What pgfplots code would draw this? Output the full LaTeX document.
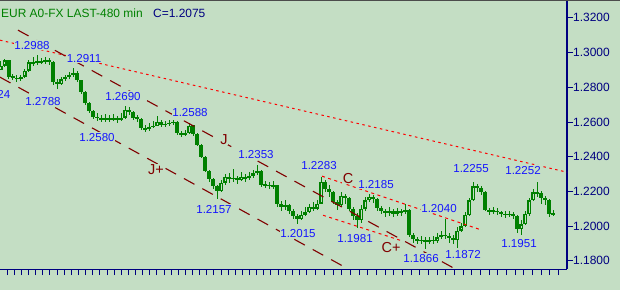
\documentclass[border=0pt]{standalone}
\usepackage{pgfplots}
\usepackage{pgfplotstable}
\pgfplotsset{compat=1.18}
\usepackage{fontspec}
\setmainfont{Liberation Sans}
\definecolor{bg}{RGB}{196,222,196}
\definecolor{barg}{RGB}{0,128,0}
\definecolor{navyc}{RGB}{0,0,128}
\definecolor{lblue}{RGB}{20,20,255}
\definecolor{dred}{RGB}{128,0,0}
\definecolor{bred}{RGB}{255,0,0}
\pgfplotstableread{
x o h l c
1 1.2900 1.2950 1.2900 1.2925
5 1.2925 1.2965 1.2915 1.2955
9 1.2955 1.2960 1.2850 1.2862
13 1.2862 1.2875 1.2840 1.2855
17 1.2855 1.2870 1.2830 1.2848
21 1.2848 1.2872 1.2835 1.2860
25 1.2860 1.2905 1.2852 1.2895
29 1.2895 1.2960 1.2890 1.2945
33 1.2945 1.2975 1.2925 1.2940
37 1.2940 1.2988 1.2930 1.2952
41 1.2952 1.2970 1.2932 1.2945
45 1.2945 1.2975 1.2935 1.2955
49 1.2955 1.2968 1.2930 1.2948
53 1.2948 1.2950 1.2815 1.2830
57 1.2830 1.2845 1.2788 1.2820
61 1.2820 1.2860 1.2815 1.2845
65 1.2845 1.2872 1.2835 1.2860
69 1.2860 1.2890 1.2850 1.2872
73 1.2872 1.2911 1.2860 1.2880
77 1.2880 1.2895 1.2830 1.2840
81 1.2840 1.2845 1.2760 1.2775
85 1.2775 1.2780 1.2700 1.2710
89 1.2710 1.2715 1.2650 1.2665
93 1.2665 1.2670 1.2618 1.2630
97 1.2630 1.2650 1.2605 1.2625
101 1.2625 1.2640 1.2598 1.2610
105 1.2610 1.2645 1.2602 1.2622
109 1.2622 1.2640 1.2600 1.2615
113 1.2615 1.2648 1.2608 1.2625
117 1.2625 1.2632 1.2595 1.2612
121 1.2612 1.2650 1.2605 1.2625
125 1.2625 1.2690 1.2620 1.2670
129 1.2670 1.2685 1.2640 1.2660
133 1.2660 1.2665 1.2610 1.2625
137 1.2625 1.2640 1.2600 1.2620
141 1.2620 1.2625 1.2555 1.2565
145 1.2565 1.2585 1.2545 1.2560
149 1.2560 1.2595 1.2550 1.2570
153 1.2570 1.2605 1.2565 1.2580
157 1.2580 1.2635 1.2580 1.2600
161 1.2600 1.2610 1.2570 1.2585
165 1.2585 1.2605 1.2572 1.2590
169 1.2590 1.2610 1.2575 1.2595
173 1.2595 1.2612 1.2580 1.2600
177 1.2600 1.2605 1.2525 1.2535
181 1.2535 1.2550 1.2515 1.2530
185 1.2530 1.2555 1.2518 1.2535
189 1.2535 1.2595 1.2530 1.2580
193 1.2580 1.2585 1.2520 1.2530
197 1.2530 1.2535 1.2460 1.2470
201 1.2470 1.2475 1.2390 1.2400
205 1.2400 1.2405 1.2310 1.2320
209 1.2320 1.2325 1.2255 1.2270
213 1.2270 1.2280 1.2215 1.2230
217 1.2230 1.2240 1.2157 1.2200
221 1.2200 1.2265 1.2195 1.2250
225 1.2250 1.2300 1.2240 1.2285
229 1.2285 1.2305 1.2250 1.2270
233 1.2270 1.2330 1.2255 1.2280
237 1.2280 1.2290 1.2245 1.2265
241 1.2265 1.2310 1.2260 1.2285
245 1.2285 1.2300 1.2255 1.2275
249 1.2275 1.2315 1.2265 1.2290
253 1.2290 1.2325 1.2280 1.2305
257 1.2305 1.2353 1.2295 1.2320
261 1.2320 1.2325 1.2225 1.2235
265 1.2235 1.2260 1.2220 1.2240
269 1.2240 1.2255 1.2215 1.2230
273 1.2230 1.2258 1.2215 1.2235
277 1.2235 1.2240 1.2110 1.2125
281 1.2125 1.2145 1.2090 1.2110
285 1.2110 1.2150 1.2095 1.2120
289 1.2120 1.2130 1.2070 1.2090
293 1.2090 1.2100 1.2040 1.2060
297 1.2060 1.2070 1.2015 1.2040
301 1.2040 1.2085 1.2035 1.2065
305 1.2065 1.2110 1.2060 1.2080
309 1.2080 1.2130 1.2075 1.2110
313 1.2110 1.2140 1.2085 1.2100
317 1.2100 1.2150 1.2095 1.2130
321 1.2130 1.2283 1.2125 1.2255
325 1.2255 1.2265 1.2195 1.2215
329 1.2215 1.2235 1.2170 1.2195
333 1.2195 1.2205 1.2125 1.2140
337 1.2140 1.2150 1.2095 1.2120
341 1.2120 1.2195 1.2110 1.2175
345 1.2175 1.2185 1.2130 1.2160
349 1.2160 1.2170 1.2085 1.2100
353 1.2100 1.2110 1.2035 1.2060
357 1.2060 1.2075 1.1990 1.2035
361 1.2035 1.2120 1.2020 1.2100
365 1.2100 1.2170 1.2090 1.2150
369 1.2150 1.2185 1.2140 1.2170
373 1.2170 1.2180 1.2135 1.2155
377 1.2155 1.2165 1.2090 1.2105
381 1.2105 1.2115 1.2070 1.2090
385 1.2090 1.2100 1.2055 1.2075
389 1.2075 1.2110 1.2060 1.2090
393 1.2090 1.2100 1.2050 1.2070
397 1.2070 1.2105 1.2060 1.2085
401 1.2085 1.2100 1.2060 1.2080
405 1.2080 1.2125 1.2070 1.2095
409 1.2095 1.2100 1.1935 1.1950
413 1.1950 1.1960 1.1905 1.1925
417 1.1925 1.1940 1.1895 1.1915
421 1.1915 1.1945 1.1900 1.1920
425 1.1920 1.1935 1.1866 1.1910
429 1.1910 1.1940 1.1895 1.1920
433 1.1920 1.1945 1.1895 1.1915
437 1.1915 1.1960 1.1905 1.1935
441 1.1935 1.1975 1.1925 1.1950
445 1.1950 1.2040 1.1925 1.1945
449 1.1945 1.1960 1.1905 1.1930
453 1.1930 1.1950 1.1895 1.1920
457 1.1920 1.1995 1.1872 1.1975
461 1.1975 1.2020 1.1965 1.2000
465 1.2000 1.2080 1.1995 1.2065
469 1.2065 1.2165 1.2060 1.2150
473 1.2150 1.2255 1.2145 1.2230
477 1.2230 1.2245 1.2195 1.2220
481 1.2220 1.2230 1.2180 1.2195
485 1.2195 1.2200 1.2085 1.2095
489 1.2095 1.2105 1.2065 1.2085
493 1.2085 1.2110 1.2070 1.2090
497 1.2090 1.2105 1.2065 1.2080
501 1.2080 1.2090 1.2050 1.2070
505 1.2070 1.2085 1.2045 1.2065
509 1.2065 1.2090 1.2050 1.2072
513 1.2072 1.2080 1.2040 1.2060
517 1.2060 1.2065 1.1960 1.1985
521 1.1985 1.2035 1.1951 1.2010
525 1.2010 1.2090 1.2005 1.2070
529 1.2070 1.2165 1.2060 1.2150
533 1.2150 1.2215 1.2145 1.2195
537 1.2195 1.2252 1.2170 1.2190
541 1.2190 1.2200 1.2130 1.2160
545 1.2160 1.2175 1.2120 1.2150
549 1.2150 1.2155 1.2055 1.2070
553 1.2070 1.2095 1.2060 1.2075
}\bars
\begin{document}
\begin{tikzpicture}[x=1bp,y=1bp]
\useasboundingbox (0,0) rectangle (620,290);
\clip (0,0) rectangle (620,290);
\fill[bg] (0,0) rectangle (620,290);
\begin{axis}[at={(0,12)}, anchor=south west, scale only axis,
  width=567bp, height=278bp,
  xmin=0, xmax=567, ymin=1.17522, ymax=1.33538,
  axis x line=bottom, axis y line=right,
  axis line style={-, draw=navyc, line width=1.3bp},
  tick align=outside, major tick length=6bp,
  every tick/.style={draw=navyc, line width=1bp},
  xtick={0,7.1,14.3,21.4,28.5,35.7,42.8,49.9,57.0,64.2,71.3,78.4,85.6,92.7,99.8,107.0,114.1,121.2,128.3,135.5,142.6,149.7,156.9,164.0,171.1,178.3,185.4,192.5,199.6,206.8,213.9,221.0,228.2,235.3,242.4,249.6,256.7,263.8,270.9,278.1,285.2,292.3,299.5,306.6,315.7,324.4,333.0,341.7,350.4,359.0,367.7,376.4,385.1,393.7,402.4,411.1,419.7,428.4,437.1,445.8,454.4,463.1,471.8,480.4,489.1,497.8,506.5,515.1,523.8,532.5,541.1,549.8,558.5},
  xticklabel=\empty,
  ytick={1.18,1.20,1.22,1.24,1.26,1.28,1.30,1.32},
  yticklabel style={font=\fontsize{12}{12}\selectfont, text=navyc, inner sep=0pt, anchor=west,
    /pgf/number format/.cd, fixed, precision=4, fixed zerofill, assume math mode=true},
  clip=false,
]
% wicks
\addplot[draw=none, mark=none, forget plot, error bars/.cd, y dir=both, y explicit, error mark=none,
  error bar style={draw=barg, line width=1bp}]
  table[x=x, y expr={(\thisrow{h}+\thisrow{l})/2}, y error expr={(\thisrow{h}-\thisrow{l})/2}] {\bars};
% bodies
\addplot[draw=none, mark=none, forget plot, error bars/.cd, y dir=both, y explicit, error mark=none,
  error bar style={draw=barg, line width=3.3bp}]
  table[x=x, y expr={(\thisrow{o}+\thisrow{c})/2}, y error expr={max(abs(\thisrow{c}-\thisrow{o})/2,0.0004)}] {\bars};
% hollow interior of rising bars
\addplot[draw=none, mark=none, forget plot, error bars/.cd, y dir=both, y explicit, error mark=none,
  error bar style={draw=bg, line width=1bp}]
  table[x=x, y expr={(\thisrow{o}+\thisrow{c})/2}, y error expr={(\thisrow{c}>\thisrow{o})*max((\thisrow{c}-\thisrow{o})/2-0.0008,0)}] {\bars};
% trend lines
\addplot[bred, line width=1bp, dash pattern=on 2.5bp off 3.5bp] coordinates {(0,1.30715) (567,1.2311)};
\addplot[dred, line width=1.1bp, dash pattern=on 12bp off 9bp] coordinates {(18,1.31291) (455,1.17544)};
\addplot[dred, line width=1.1bp, dash pattern=on 12bp off 9bp] coordinates {(0,1.28583) (348,1.17538)};
\addplot[bred, line width=1bp, dash pattern=on 3bp off 3.5bp] coordinates {(322,1.2288) (482,1.19768)};
\addplot[bred, line width=1bp, dash pattern=on 3bp off 3.5bp] coordinates {(323,1.2063) (400,1.1919)};
% labels
\tikzset{lab/.style={font=\fontsize{11.6}{11.6}\selectfont, text=lblue, fill=bg, inner sep=0.6bp},
  chl/.style={font=\fontsize{14.5}{14.5}\selectfont, text=dred, fill=bg, inner sep=0.3bp}}
\node[lab] at (axis cs:32,1.30427) {1.2988};
\node[lab] at (axis cs:84,1.29678) {1.2911};
\node[lab, anchor=east] at (axis cs:11,1.27604) {1.2824};
\node[lab] at (axis cs:43,1.27201) {1.2788};
\node[lab] at (axis cs:123,1.27489) {1.2690};
\node[lab] at (axis cs:97,1.25126) {1.2580};
\node[lab] at (axis cs:190,1.26567) {1.2588};
\node[lab] at (axis cs:256,1.24147) {1.2353};
\node[lab] at (axis cs:214,1.20978) {1.2157};
\node[lab] at (axis cs:298,1.19596) {1.2015};
\node[lab] at (axis cs:319,1.23513) {1.2283};
\node[lab] at (axis cs:355,1.19307) {1.1981};
\node[lab] at (axis cs:376,1.22419) {1.2185};
\node[lab] at (axis cs:439,1.21036) {1.2040};
\node[lab] at (axis cs:421,1.18155) {1.1866};
\node[lab] at (axis cs:463,1.18386) {1.1872};
\node[lab] at (axis cs:471,1.23340) {1.2255};
\node[lab] at (axis cs:523,1.23225) {1.2252};
\node[lab] at (axis cs:519,1.19019) {1.1951};
\node[chl] at (axis cs:224,1.2500) {J};
\node[chl] at (axis cs:156,1.2328) {J+};
\node[chl] at (axis cs:348,1.2276) {C};
\node[chl] at (axis cs:391,1.1878) {C+};
\end{axis}
\draw[line width=1.5bp, black!70] (0,289.25) -- (620,289.25);
\node[anchor=base west, inner sep=0pt, font=\fontsize{12}{12}\selectfont, text=barg] at (1,273) {EUR A0-FX LAST-480 min};
\node[anchor=base west, inner sep=0pt, font=\fontsize{12}{12}\selectfont, text=navyc] at (153,273) {C=1.2075};
\end{tikzpicture}
\end{document}
